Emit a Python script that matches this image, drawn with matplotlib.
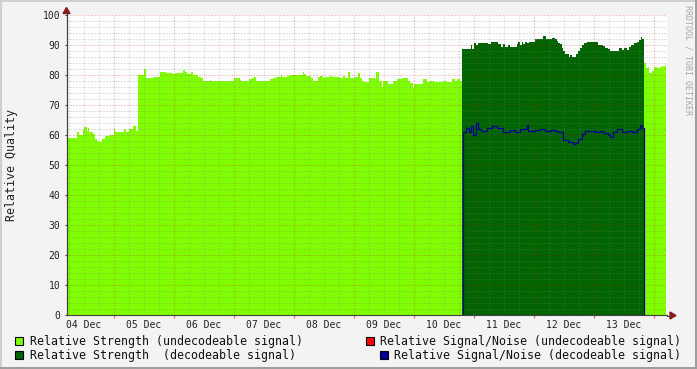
# Relative quality of the received signal, 04 Dec - 13 Dec
# style RRDtool : aires en escalier + ligne S/N

import matplotlib.pyplot as plt
import numpy as np
from matplotlib.patches import Rectangle, Polygon
from matplotlib.lines import Line2D

# temps en jours depuis le 04 Dec 00:00
# force relative, signal non décodable (1ère période)
su1_t = [0.217, 0.388, 0.412, 0.488, 0.505, 0.545, 0.567, 0.588, 0.645, 0.678,
         0.712, 0.755, 0.800, 0.845, 0.912, 1.000, 1.022, 1.167, 1.200, 1.245,
         1.322, 1.367, 1.400, 1.500, 1.533, 1.655, 1.767, 1.867, 1.988, 2.017,
         2.145, 2.183, 2.212, 2.278, 2.322, 2.367, 2.405, 2.445, 2.488, 2.600,
         2.617, 3.000, 3.100, 3.117, 3.255, 3.295, 3.333, 3.362, 3.600, 3.655,
         3.700, 3.778, 3.800, 3.878, 3.933, 4.145, 4.172, 4.195, 4.278, 4.312,
         4.405, 4.433, 4.478, 4.517, 4.600, 4.633, 4.767, 4.822, 4.850, 4.905,
         4.933, 5.017, 5.072, 5.100, 5.133, 5.167, 5.255, 5.350, 5.367, 5.422,
         5.462, 5.488, 5.572, 5.655, 5.722, 5.795, 5.895, 5.933, 5.978, 6.000,
         6.155, 6.212, 6.267, 6.333, 6.488, 6.555, 6.628, 6.683, 6.712, 6.767]
su1_v = [59, 61, 60, 61.7, 62.7, 61.3, 62.4, 61, 60.3, 58.8,
         58, 57.7, 58.7, 59.6, 60, 62, 61.1, 62, 61, 62,
         63, 61.4, 80, 82, 78.9, 79.2, 81, 80.6, 80.3, 80.8,
         81.7, 81, 80.3, 81, 80.1, 79.9, 79.4, 78.9, 78, 78.3,
         78, 79, 78.3, 78, 78.6, 78.9, 79.4, 78, 78.6, 79,
         79.4, 80, 79.4, 79.8, 80, 80.9, 80.3, 79.8, 78.9, 78,
         79.2, 79.8, 79, 79.4, 79.8, 79.4, 78.9, 79.7, 78.9, 81,
         78.9, 79.4, 80.6, 78.9, 78, 77.8, 78.9, 78.6, 81, 78,
         76.1, 77.9, 77, 78.1, 78.6, 78.9, 78.1, 77.2, 75.6, 77,
         78.6, 77.8, 78.1, 77.8, 78.1, 77.8, 78.6, 78, 78.6, 78.1]
su1_end = 6.800

# force relative, signal non décodable (2ème période)
su2_t = [9.833, 9.862, 9.895, 9.917, 9.962, 10.000, 10.045, 10.100, 10.155]
su2_v = [84.1, 82.2, 82.8, 80.8, 81.4, 82.6, 82.2, 82.8, 83]
su2_end = 10.200

# force relative, signal décodable
sd_t = [6.805, 6.950, 6.972, 7.005, 7.028, 7.062, 7.238, 7.283, 7.405, 7.450,
        7.488, 7.517, 7.562, 7.600, 7.712, 7.738, 7.772, 7.795, 7.822, 7.850,
        7.878, 7.917, 8.017, 8.155, 8.195, 8.295, 8.350, 8.378, 8.405, 8.433,
        8.462, 8.488, 8.517, 8.583, 8.600, 8.638, 8.695, 8.728, 8.767, 8.795,
        8.838, 8.878, 9.072, 9.155, 9.183, 9.228, 9.267, 9.417, 9.462, 9.500,
        9.545, 9.583, 9.617, 9.672, 9.712, 9.750, 9.783, 9.805]
sd_v = [88.7, 90, 88.7, 90.8, 90, 90.8, 90.3, 91, 90.3, 89.4,
        90.3, 89.4, 89.9, 89.4, 90.3, 91, 90, 91, 90.3, 91,
        90.6, 91, 92, 93, 92, 92.3, 92, 91.4, 90.8, 90.3,
        88.9, 88, 87, 86.1, 86.7, 86.1, 87, 88, 88.9, 90,
        90.6, 91, 90, 89.7, 88.9, 88.6, 88, 88.9, 88.3, 88.9,
        88.3, 89.4, 90, 90.6, 91, 91.7, 92.6, 91.9]
sd_end = 9.833

# signal/bruit relatif, signal décodable
snd_t = [6.812, 6.867, 6.917, 6.950, 6.983, 7.033, 7.067, 7.117, 7.212, 7.300,
         7.383, 7.483, 7.600, 7.683, 7.767, 7.883, 7.900, 8.017, 8.100, 8.183,
         8.267, 8.350, 8.400, 8.483, 8.567, 8.650, 8.683, 8.733, 8.800, 8.850,
         9.017, 9.100, 9.150, 9.233, 9.267, 9.317, 9.383, 9.467, 9.550, 9.633,
         9.717, 9.767, 9.800]
snd_v = [61, 62.5, 61, 63, 60, 64, 62, 61.5, 62.5, 63,
         62.5, 61, 61.7, 61, 62, 63.5, 61.4, 61.7, 62, 61.5,
         61.7, 61.5, 61, 58.4, 57.7, 56.9, 57.5, 58.8, 60.4, 61.4,
         61, 61.5, 60.6, 60, 59.2, 61, 62, 61, 61.5, 61,
         62, 63.5, 62.5]
snd_end = 9.828

day_labels = ["04 Dec", "05 Dec", "06 Dec", "07 Dec", "08 Dec",
              "09 Dec", "10 Dec", "11 Dec", "12 Dec", "13 Dec"]
legend_labels = ["Relative Strength (undecodeable signal)",
                 "Relative Signal/Noise (undecodeable signal)",
                 "Relative Strength  (decodeable signal)",
                 "Relative Signal/Noise (decodeable signal)"]

C_LIGHT = "#80FF00"
C_RED = "#FF0000"
C_DARK = "#006400"
C_BLUE = "#000099"
MONO = "DejaVu Sans Mono"

W, H = 697, 369


def P(x, y):
    # pixels -> coordonnées figure
    return (x / W, 1 - y / H)


def step_area(ax, t, v, t_end, color):
    x = np.append(t, t_end)
    y = np.append(v, v[-1])
    ax.fill_between(x, y, step="post", color=color, lw=0, zorder=1)


fig = plt.figure(figsize=(W / 100, H / 100), dpi=100, facecolor="#F3F3F3")
ax = fig.add_axes([67 / W, 54 / H, 600 / W, 300 / H])
ax.set_facecolor("white")
ax.set_xlim(0.217, 10.217)
ax.set_ylim(0, 100)

step_area(ax, su1_t, su1_v, su1_end, C_LIGHT)
step_area(ax, su2_t, su2_v, su2_end, C_LIGHT)
step_area(ax, sd_t, sd_v, sd_end, C_DARK)

bx = [snd_t[0]] + snd_t + [snd_end, snd_end]
by = [0] + snd_v + [snd_v[-1], 0]
ax.plot(bx, by, drawstyle="steps-post", color=C_BLUE, lw=0.9, zorder=4)

# grille
dots = (0, (1, 2))
for y in range(2, 101, 2):
    if y % 10:
        ax.axhline(y, color="#7F7F7F", alpha=0.45, lw=0.72, ls=dots, zorder=3)
    else:
        ax.axhline(y, color="#D00000", alpha=0.4, lw=0.72, ls=dots, zorder=3)
for x in np.arange(0.25, 10.2, 0.25):
    if x % 1:
        ax.axvline(x, color="#7F7F7F", alpha=0.45, lw=0.72, ls=dots, zorder=3)
    else:
        ax.axvline(x, color="#D00000", alpha=0.4, lw=0.72, ls=dots, zorder=3)

# axes
for s in ["top", "right"]:
    ax.spines[s].set_visible(False)
for s in ["left", "bottom"]:
    ax.spines[s].set_color("#404040")
    ax.spines[s].set_linewidth(0.8)
    ax.spines[s].set_zorder(5)

ax.set_yticks(range(0, 101, 10))
ax.set_yticklabels([str(v) for v in range(0, 101, 10)])
ax.set_xticks(np.arange(10) + 0.5)
ax.set_xticklabels(day_labels)
ax.set_xticks(np.arange(1, 11), minor=True)
ax.tick_params(axis="x", which="major", length=0, pad=3.5)
ax.tick_params(axis="x", which="minor", length=1.8, color="#E06060", width=0.8)
ax.tick_params(axis="y", length=1.8, color="#404040", width=0.8, pad=3)
for lab in ax.get_xticklabels() + ax.get_yticklabels():
    lab.set_family(MONO)
    lab.set_fontsize(7)
    lab.set_color("#222222")

# prolongement des axes + flèches
fig.add_artist(Line2D([P(66.5, 0)[0]] * 2, [P(0, 315)[1], P(0, 12)[1]],
                      color="#404040", lw=0.8))
fig.add_artist(Line2D([P(667, 0)[0], P(670, 0)[0]], [P(0, 315.5)[1]] * 2,
                      color="#404040", lw=0.8))
fig.add_artist(Polygon([P(66.5, 7.5), P(63, 13.5), P(70, 13.5)],
                       closed=True, color="#8B1A1A", transform=fig.transFigure))
fig.add_artist(Polygon([P(676, 315.5), P(670, 312), P(670, 319)],
                       closed=True, color="#8B1A1A", transform=fig.transFigure))

# textes
fig.text(*P(12, 165), "Relative Quality", rotation=90, ha="center", va="center",
         family=MONO, fontsize=8.4, color="#222222")
fig.text(*P(688, 60), "RRDTOOL / TOBI OETIKER", rotation=270, ha="center",
         va="center", family=MONO, fontsize=6, color="#A8A8A8")

# légende
leg_pos = [(15, 337, 30, 341), (366, 337, 380, 341),
           (15, 351, 30, 355.5), (379.5, 351, 394, 355.5)]
leg_cols = [C_LIGHT, C_RED, C_DARK, C_BLUE]
for (bx0, by0, tx, ty), col, lab in zip(leg_pos, leg_cols, legend_labels):
    fig.add_artist(Rectangle(P(bx0, by0 + 8), 8 / W, 8 / H, facecolor=col,
                             edgecolor="black", lw=0.8, transform=fig.transFigure))
    fig.text(*P(tx, ty), lab, ha="left", va="center", family=MONO,
             fontsize=8.4, color="#111111")

# cadre
fig.add_artist(Rectangle((0, 1 - 2 / H), 1, 2 / H, color="#CFCFCF",
                         transform=fig.transFigure, lw=0))
fig.add_artist(Rectangle((0, 0), 2 / W, 1, color="#CFCFCF",
                         transform=fig.transFigure, lw=0))
fig.add_artist(Rectangle((0, 0), 1, 2 / H, color="#9E9E9E",
                         transform=fig.transFigure, lw=0))
fig.add_artist(Rectangle((1 - 2 / W, 0), 2 / W, 1, color="#9E9E9E",
                         transform=fig.transFigure, lw=0))

fig.savefig("out.png", dpi=100, facecolor=fig.get_facecolor())
